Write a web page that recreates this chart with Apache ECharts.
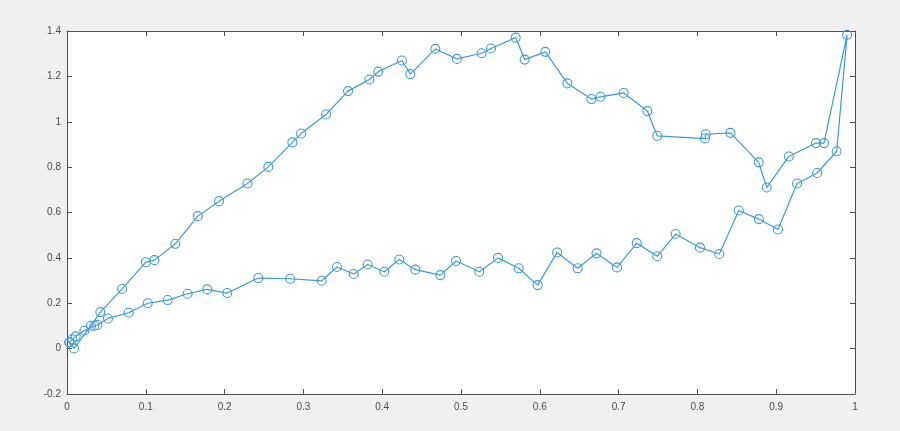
<!DOCTYPE html>
<html>
<head>
<meta charset="utf-8">
<script src="https://cdn.jsdelivr.net/npm/echarts@6/dist/echarts.min.js"></script>
<style>
  html, body { margin: 0; padding: 0; background: #f0f0f0; }
  #plot { width: 900px; height: 431px; }
</style>
</head>
<body>
<div id="plot"></div>
<script>
  // path goes up along the top curve to x≈0.99, then back along the lower curve
  var upX = [0.003, 0.0089, 0.0305, 0.0423, 0.070, 0.100, 0.111, 0.1375, 0.166, 0.193, 0.229, 0.2555, 0.286, 0.297,
    0.3287, 0.3566, 0.3837, 0.395, 0.425, 0.4357, 0.4674, 0.4949, 0.5262, 0.538, 0.5694, 0.5808, 0.607, 0.635,
    0.6654, 0.677, 0.7065, 0.7365, 0.749, 0.8096, 0.8105, 0.842, 0.8778, 0.888, 0.916, 0.9505, 0.9606, 0.990]
  var upY = [0.028, 0.001, 0.101, 0.161, 0.263, 0.381, 0.390, 0.462, 0.584, 0.650, 0.728, 0.801, 0.909, 0.948,
    1.032, 1.135, 1.186, 1.221, 1.270, 1.210, 1.321, 1.277, 1.302, 1.323, 1.371, 1.274, 1.308, 1.169,
    1.100, 1.110, 1.127, 1.047, 0.938, 0.926, 0.945, 0.951, 0.821, 0.710, 0.847, 0.906, 0.906, 1.383]
  var lowX = [0.9767, 0.952, 0.9264, 0.9023, 0.878, 0.8524, 0.8278, 0.8033, 0.7724, 0.749, 0.723, 0.698, 0.672,
    0.648, 0.622, 0.5973, 0.5732, 0.547, 0.5232, 0.4937, 0.4738, 0.442, 0.4217, 0.4027, 0.3816, 0.3638, 0.3426,
    0.3232, 0.2834, 0.2428, 0.2034, 0.178, 0.153, 0.1278, 0.1024, 0.0783, 0.052, 0.0385, 0.0347, 0.022, 0.011,
    0.0068, 0.003]
  var lowY = [0.870, 0.774, 0.728, 0.525, 0.571, 0.609, 0.417, 0.445, 0.505, 0.407, 0.465, 0.358, 0.420,
    0.354, 0.424, 0.280, 0.354, 0.400, 0.339, 0.386, 0.324, 0.348, 0.393, 0.339, 0.371, 0.329, 0.360,
    0.299, 0.308, 0.311, 0.245, 0.261, 0.242, 0.214, 0.200, 0.158, 0.133, 0.104, 0.101, 0.079, 0.054,
    0.041, 0.028]
  var xTicks = [0, 1, 0.1]
  var yTicks = [-0.2, 1.4, 0.2]

  var pts = []
  for (var i = 0; i < upX.length; i++) pts.push([upX[i], upY[i]])
  for (var j = 0; j < lowX.length; j++) pts.push([lowX[j], lowY[j]])

  var lineCol = '#3d9ad8'
  var axisCol = '#4f4f4f'
  var labelStyle = { color: '#4a4a4a', fontSize: 10, fontFamily: 'Liberation Sans, Arial, sans-serif' }
  var fmt = function (v) { return String(+v.toFixed(1)) }

  function xAxisOf(pos, show) {
    return {
      type: 'value', position: pos, min: xTicks[0], max: xTicks[1], interval: xTicks[2],
      axisLine: { show: true, onZero: false, lineStyle: { color: axisCol, width: 1 } },
      axisTick: { show: true, inside: true, length: 5, lineStyle: { color: axisCol } },
      axisLabel: Object.assign({ show: show, margin: 8, formatter: fmt }, labelStyle),
      splitLine: { show: false }
    }
  }
  function yAxisOf(pos, show) {
    return {
      type: 'value', position: pos, min: yTicks[0], max: yTicks[1], interval: yTicks[2],
      axisLine: { show: true, onZero: false, lineStyle: { color: axisCol, width: 1 } },
      axisTick: { show: true, inside: true, length: 5, lineStyle: { color: axisCol } },
      axisLabel: Object.assign({ show: show, margin: 6, formatter: fmt }, labelStyle),
      splitLine: { show: false }
    }
  }

  var chart = echarts.init(document.getElementById('plot'))
  chart.setOption({
    backgroundColor: '#f0f0f0',
    animation: false,
    grid: { left: 67, right: 45, top: 31, bottom: 37, show: true, backgroundColor: '#ffffff', borderWidth: 0 },
    xAxis: [xAxisOf('bottom', true), xAxisOf('top', false)],
    yAxis: [yAxisOf('left', true), yAxisOf('right', false)],
    series: [
      {
        type: 'line',
        data: pts,
        symbol: 'circle',
        symbolSize: 9,
        showAllSymbol: true,
        lineStyle: { color: lineCol, width: 1.2 },
        itemStyle: { color: 'rgba(0,0,0,0)', borderColor: lineCol, borderWidth: 1.1 }
      }
    ]
  })
</script>
</body>
</html>
